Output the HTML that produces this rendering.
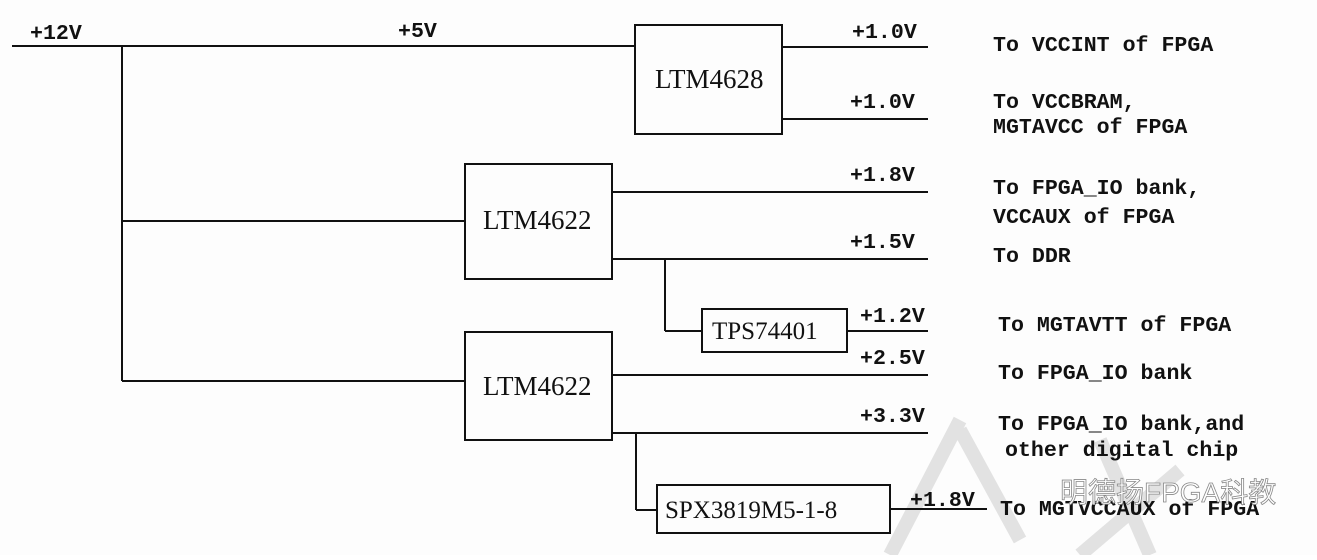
<!DOCTYPE html>
<html><head><meta charset="utf-8"><style>
body{margin:0;background:#fff;}
svg text{font-family:"Liberation Mono",monospace;font-weight:bold;fill:#111;}
</style></head><body>
<svg width="1317" height="555" viewBox="0 0 1317 555" xmlns="http://www.w3.org/2000/svg">
<rect width="1317" height="555" fill="#fdfdfd"/>
<g stroke="#e2e2e2" stroke-width="14" fill="none">
<path d="M890 555 L960 420"/><path d="M960 430 L1020 540"/><path d="M1100 440 L1150 555"/><path d="M1080 555 L1180 470"/>
</g>
<g stroke="#111" stroke-width="2" fill="none">
<line x1="12" y1="46" x2="635" y2="46"/>
<line x1="122" y1="46" x2="122" y2="381"/>
<line x1="122" y1="221" x2="465" y2="221"/>
<line x1="122" y1="381" x2="465" y2="381"/>
<rect x="635" y="25" width="147" height="109"/>
<line x1="782" y1="47" x2="928" y2="47"/>
<line x1="782" y1="119" x2="928" y2="119"/>
<rect x="465" y="164" width="147" height="115"/>
<line x1="612" y1="192" x2="928" y2="192"/>
<line x1="612" y1="259" x2="928" y2="259"/>
<line x1="665" y1="259" x2="665" y2="331"/>
<line x1="665" y1="331" x2="702" y2="331"/>
<rect x="702" y="309" width="145" height="43"/>
<line x1="847" y1="331" x2="928" y2="331"/>
<rect x="465" y="332" width="147" height="108"/>
<line x1="612" y1="375" x2="928" y2="375"/>
<line x1="612" y1="433" x2="928" y2="433"/>
<line x1="636" y1="433" x2="636" y2="510"/>
<line x1="636" y1="510" x2="657" y2="510"/>
<rect x="657" y="485" width="233" height="48"/>
<line x1="890" y1="509" x2="987" y2="509"/>
</g>
<g font-size="21.6">
<text x="30" y="39">+12V</text>
<text x="398" y="37">+5V</text>
<text x="852" y="38">+1.0V</text>
<text x="850" y="108">+1.0V</text>
<text x="850" y="181">+1.8V</text>
<text x="850" y="248">+1.5V</text>
<text x="860" y="322">+1.2V</text>
<text x="860" y="364">+2.5V</text>
<text x="860" y="422">+3.3V</text>
<text x="910" y="506">+1.8V</text>
<text x="993" y="51">To VCCINT of FPGA</text>
<text x="993" y="108">To VCCBRAM,</text>
<text x="993" y="133">MGTAVCC  of FPGA</text>
<text x="993" y="194">To FPGA_IO bank,</text>
<text x="993" y="223">VCCAUX of FPGA</text>
<text x="993" y="262">To DDR</text>
<text x="998" y="331">To MGTAVTT of FPGA</text>
<text x="998" y="379">To FPGA_IO bank</text>
<text x="998" y="430">To FPGA_IO bank,and</text>
<text x="1005" y="456">other digital chip</text>
<text x="1000" y="515">To MGTVCCAUX of FPGA</text>
</g>
<g style="font-family:'Liberation Serif',serif;font-weight:normal">
<text x="655" y="88" style="font-family:'Liberation Serif',serif;font-weight:normal;font-size:27px">LTM4628</text>
<text x="483" y="229" style="font-family:'Liberation Serif',serif;font-weight:normal;font-size:27px">LTM4622</text>
<text x="483" y="395" style="font-family:'Liberation Serif',serif;font-weight:normal;font-size:27px">LTM4622</text>
<text x="712" y="339" style="font-family:'Liberation Serif',serif;font-weight:normal;font-size:25px">TPS74401</text>
<text x="665" y="518" style="font-family:'Liberation Serif',serif;font-weight:normal;font-size:25px">SPX3819M5-1-8</text>
</g>
<text x="1060" y="502" style="font-family:'Liberation Sans','Noto Sans CJK SC',sans-serif;font-weight:normal;font-size:28px;fill:#fff;stroke:#888;stroke-width:0.8">明德扬FPGA科教</text>
</svg>
</body></html>
